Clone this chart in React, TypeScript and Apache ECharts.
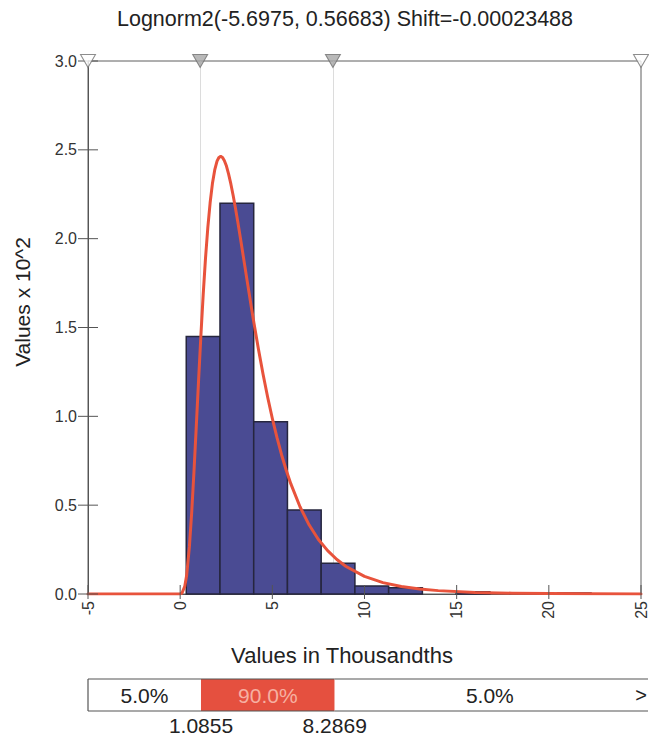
import React, { useEffect, useRef } from "react";
import * as echarts from "echarts";

const titleText = "Lognorm2(-5.6975, 0.56683) Shift=-0.00023488";
const xAxisName = "Values in Thousandths";
const yAxisName = "Values x 10^2";

const xMin = -5;
const xMax = 25;
const xInterval = 5;
const yMin = 0;
const yMax = 3;
const yInterval = 0.5;
const xTicks = [-5, 0, 5, 10, 15, 20, 25];
const yTicks = [0, 0.5, 1, 1.5, 2, 2.5, 3];

const binEdges = [0.33, 2.16, 3.99, 5.82, 7.65, 9.48, 11.31, 13.14, 14.97, 16.8, 18.63, 20.46, 22.29];
const binHeights = [1.45, 2.2, 0.97, 0.473, 0.173, 0.045, 0.035, 0, 0.012, 0, 0, 0.006];

const curveX = [-5, -0.235, 0, 0.1, 0.25, 0.35, 0.5, 0.625, 0.75, 0.875, 1, 1.125, 1.25, 1.375, 1.5, 1.625, 1.75, 1.875, 2, 2.1, 2.2, 2.3, 2.4, 2.5, 2.625, 2.75, 2.875, 3, 3.125, 3.25, 3.375, 3.5, 3.625, 3.75, 3.875, 4, 4.25, 4.5, 4.75, 5, 5.25, 5.5, 5.75, 6, 6.5, 7, 7.5, 8, 8.5, 9, 10, 11, 12, 13, 14, 16, 18, 20, 22, 25];
const curveY = [0, 0, 0.0005, 0.0054, 0.043, 0.104, 0.265, 0.458, 0.691, 0.945, 1.205, 1.456, 1.686, 1.89, 2.062, 2.202, 2.31, 2.387, 2.436, 2.457, 2.463, 2.457, 2.439, 2.412, 2.365, 2.308, 2.243, 2.171, 2.095, 2.015, 1.933, 1.851, 1.768, 1.687, 1.606, 1.527, 1.376, 1.236, 1.106, 0.988, 0.881, 0.784, 0.698, 0.621, 0.491, 0.388, 0.307, 0.244, 0.194, 0.155, 0.099, 0.064, 0.042, 0.028, 0.019, 0.009, 0.0045, 0.0023, 0.0012, 0.0005];

const markerValues = [-5, 1.0855, 8.2869, 25];
const markerFilled = [false, true, true, false];
const percentiles = [1.0855, 8.2869];
const bandEdges = [-5, 1.0855, 8.2869, 25];
const bandLabels = ["5.0%", "90.0%", "5.0%"];

const FONT = "'Liberation Sans', Arial, sans-serif";

export default function App() {
  const ref = useRef<HTMLDivElement>(null);
  useEffect(() => {
    const chart = echarts.init(ref.current!, null, { renderer: "svg" });
    const bins = binHeights.map((h, i) => [binEdges[i], binEdges[i + 1], h]);
    const curve = curveX.map((x, i) => [x, curveY[i]]);
    const markers = markerValues.map((v, i) => ({
      value: [v, yMax],
      itemStyle: { color: markerFilled[i] ? "#a8a8a8" : "#ffffff", borderColor: "#707070", borderWidth: 1 },
    }));
    const bands = bandLabels.map((_, i) => [bandEdges[i], bandEdges[i + 1], i]);
    const bandFill = ["#ffffff", "#e5503f", "#ffffff"];
    const bandText = ["#222222", "#f6b0a2", "#222222"];
    const centered = { textAlign: "center", textVerticalAlign: "middle", align: "center", verticalAlign: "middle" };
    const ticks = [
      ...xTicks.map((v) => [v, yMin, 0]),
      ...yTicks.map((v) => [xMin, v, 1]),
    ];

    chart.setOption({
      animation: false,
      backgroundColor: "#ffffff",
      grid: [
        { left: 88, right: 4, top: 61, bottom: 146, show: true, borderColor: "#5f5f5f", borderWidth: 1, backgroundColor: "transparent" },
        { left: 88, right: 4, top: 679, height: 32 },
      ],
      xAxis: [
        {
          gridIndex: 0, type: "value", min: xMin, max: xMax, interval: xInterval, position: "bottom",
          axisLine: { show: true, onZero: false, lineStyle: { color: "#555" } },
          axisTick: { show: false },
          axisLabel: { rotate: 90, margin: 7, fontSize: 16, color: "#333", fontFamily: FONT },
          splitLine: { show: false },
        },
        { gridIndex: 1, type: "value", min: xMin, max: xMax, show: false },
      ],
      yAxis: [
        {
          gridIndex: 0, type: "value", min: yMin, max: yMax, interval: yInterval, position: "left",
          axisLine: { show: true, onZero: false, lineStyle: { color: "#555" } },
          axisTick: { show: false },
          axisLabel: { margin: 11, fontSize: 16, color: "#333", fontFamily: FONT, formatter: (v: number) => v.toFixed(1) },
          splitLine: { show: false },
        },
        { gridIndex: 1, type: "value", min: 0, max: 1, show: false },
      ],
      graphic: [
        { type: "text", z: 100, x: 345, y: 19, style: { text: titleText, font: `21.5px ${FONT}`, fill: "#222", ...centered } },
        { type: "text", z: 100, x: 342, y: 655, style: { text: xAxisName, font: `22px ${FONT}`, fill: "#222", ...centered } },
        { type: "text", z: 100, x: 22, y: 302, rotation: Math.PI / 2, style: { text: yAxisName, font: `21px ${FONT}`, fill: "#222", ...centered } },
        { type: "text", z: 100, x: 641, y: 695, style: { text: ">", font: `20px ${FONT}`, fill: "#222", ...centered } },
      ],
      series: [
        {
          type: "scatter", xAxisIndex: 0, yAxisIndex: 0, z: 1,
          data: percentiles.map((p) => [p, 0]), symbolSize: 0, silent: true,
          markLine: {
            z: 1, silent: true, symbol: "none", label: { show: false },
            lineStyle: { color: "#dcdcdc", width: 1, type: "solid" },
            data: percentiles.map((p) => ({ xAxis: p })),
          },
        },
        {
          type: "custom", xAxisIndex: 0, yAxisIndex: 0, z: 2,
          data: bins, encode: { x: [0, 1], y: 2 },
          renderItem: (params: any, api: any) => {
            const h = api.value(2);
            if (!(h > 0)) return null;
            const p0 = api.coord([api.value(0), h]);
            const p1 = api.coord([api.value(1), 0]);
            return {
              type: "rect",
              shape: { x: p0[0], y: p0[1], width: p1[0] - p0[0], height: p1[1] - p0[1] },
              style: { fill: "#4a4b93", stroke: "#26263e", lineWidth: 1.5 },
            };
          },
        },
        {
          type: "line", xAxisIndex: 0, yAxisIndex: 0, z: 3,
          data: curve, symbol: "none", smooth: false,
          lineStyle: { color: "#e8533c", width: 3, join: "round", cap: "round" },
        },
        {
          type: "custom", xAxisIndex: 0, yAxisIndex: 0, z: 4, clip: false, silent: true,
          data: ticks, encode: { x: 0, y: 1 },
          renderItem: (params: any, api: any) => {
            const c = api.coord([api.value(0), api.value(1)]);
            const vertical = api.value(2) === 0;
            const shape = vertical
              ? { x1: c[0], y1: c[1] - 9, x2: c[0], y2: c[1] + 5 }
              : { x1: c[0] - 10, y1: c[1], x2: c[0] + 10, y2: c[1] };
            return { type: "line", shape, style: { stroke: "#555", lineWidth: 1 } };
          },
        },
        {
          type: "scatter", xAxisIndex: 0, yAxisIndex: 0, z: 5,
          data: markers, symbol: "triangle", symbolRotate: 180, symbolSize: [15, 13], clip: false, silent: true,
        },
        {
          type: "custom", xAxisIndex: 1, yAxisIndex: 1, z: 2,
          data: bands, encode: { x: [0, 1] }, clip: false,
          renderItem: (params: any, api: any) => {
            const i = api.value(2);
            const a = api.coord([api.value(0), 1]);
            const b = api.coord([api.value(1), 0]);
            const ext = i === 2 ? 3 : 0;
            const children: any[] = [
              { type: "rect", shape: { x: a[0], y: a[1], width: b[0] - a[0] + ext, height: b[1] - a[1] }, style: { fill: bandFill[i] } },
              { type: "line", shape: { x1: a[0], y1: a[1], x2: b[0] + ext, y2: a[1] }, style: { stroke: "#555", lineWidth: 1.2 } },
              { type: "line", shape: { x1: a[0], y1: b[1], x2: b[0] + ext, y2: b[1] }, style: { stroke: "#555", lineWidth: 1.2 } },
              {
                type: "text", x: (a[0] + b[0]) / 2, y: (a[1] + b[1]) / 2,
                style: { text: bandLabels[i], font: `21px ${FONT}`, fill: bandText[i], ...centered },
              },
            ];
            if (i === 0) {
              children.push({ type: "line", shape: { x1: a[0], y1: a[1], x2: a[0], y2: b[1] }, style: { stroke: "#555", lineWidth: 1.2 } });
            }
            return { type: "group", children };
          },
        },
        {
          type: "custom", xAxisIndex: 1, yAxisIndex: 1, z: 2,
          data: percentiles.map((p) => [p, 0]), encode: { x: 0, y: 1 }, clip: false,
          renderItem: (params: any, api: any) => {
            const c = api.coord([api.value(0), 0]);
            return {
              type: "text", x: c[0], y: c[1] + 14,
              style: { text: String(percentiles[params.dataIndex]), font: `21px ${FONT}`, fill: "#222", ...centered },
            };
          },
        },
      ],
    });
    return () => chart.dispose();
  }, []);
  return <div ref={ref} style={{ position: "absolute", left: 0, top: 0, width: 649, height: 740 }} />;
}
